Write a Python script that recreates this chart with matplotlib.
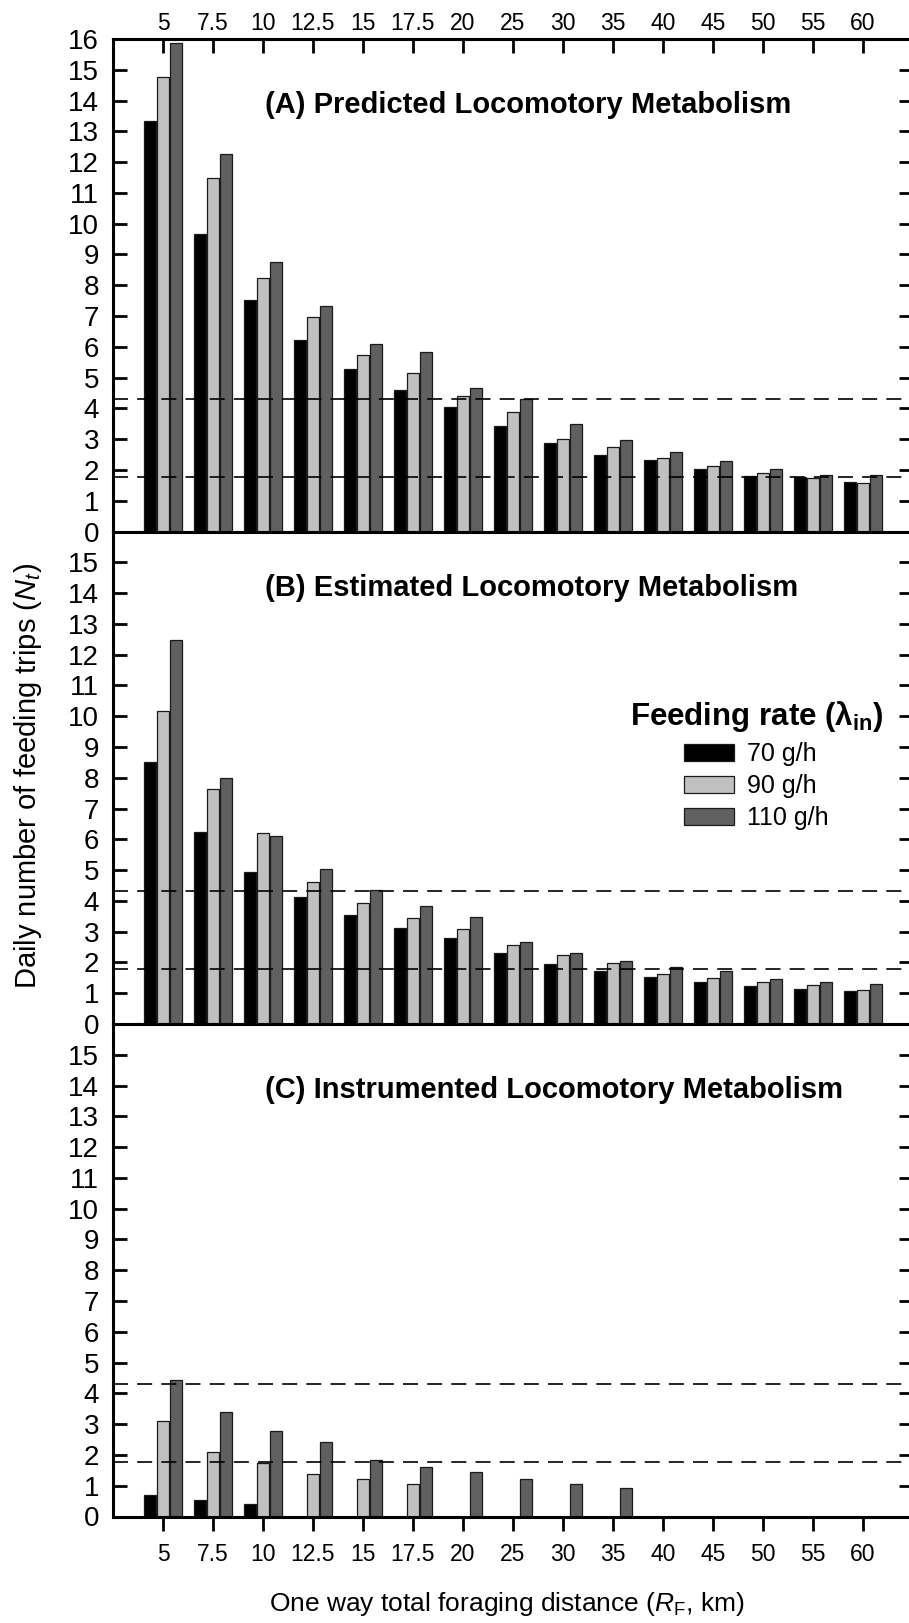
import numpy as np
import matplotlib
matplotlib.use("Agg")
import matplotlib.pyplot as plt

plt.rcParams['font.family'] = ['Liberation Sans', 'DejaVu Sans']
plt.rcParams['mathtext.fontset'] = 'custom'
plt.rcParams['mathtext.rm'] = 'Liberation Sans'
plt.rcParams['mathtext.it'] = 'Liberation Sans:italic'
plt.rcParams['mathtext.bf'] = 'Liberation Sans:bold'

# One-way foraging distance categories (km)
distances = ["5", "7.5", "10", "12.5", "15", "17.5", "20", "25", "30", "35",
             "40", "45", "50", "55", "60"]
rates = ["70 g/h", "90 g/h", "110 g/h"]
rate_colors = ["#000000", "#c0c0c0", "#606060"]

# (A) predicted locomotory metabolism: daily feeding trips
predicted_70 = [13.35, 9.65, 7.51, 6.23, 5.28, 4.61, 4.06, 3.42, 2.86, 2.47, 2.32, 2.03, 1.81, 1.78, 1.60]
predicted_90 = [14.78, 11.49, 8.24, 6.98, 5.72, 5.15, 4.40, 3.88, 3.02, 2.73, 2.38, 2.12, 1.90, 1.73, 1.59]
predicted_110 = [15.87, 12.28, 8.76, 7.32, 6.08, 5.83, 4.66, 4.32, 3.50, 2.96, 2.57, 2.28, 2.02, 1.85, 1.85]

# (B) estimated locomotory metabolism
estimated_70 = [8.52, 6.24, 4.95, 4.12, 3.55, 3.12, 2.78, 2.30, 1.95, 1.73, 1.52, 1.37, 1.25, 1.15, 1.06]
estimated_90 = [10.18, 7.63, 6.21, 4.62, 3.93, 3.45, 3.08, 2.58, 2.24, 1.99, 1.63, 1.48, 1.36, 1.26, 1.11]
estimated_110 = [12.48, 8.00, 6.11, 5.04, 4.34, 3.84, 3.49, 2.66, 2.31, 2.05, 1.86, 1.71, 1.46, 1.36, 1.29]

# (C) instrumented locomotory metabolism
instrumented_70 = [0.69, 0.54, 0.42, 0, 0, 0, 0, 0, 0, 0, 0, 0, 0, 0, 0]
instrumented_90 = [3.11, 2.10, 1.75, 1.39, 1.22, 1.06, 0, 0, 0, 0, 0, 0, 0, 0, 0]
instrumented_110 = [4.45, 3.38, 2.79, 2.41, 1.83, 1.60, 1.43, 1.21, 1.05, 0.94, 0, 0, 0, 0, 0]

# Reference levels of observed daily trips
trip_levels = [4.32, 1.78]

panel_titles = ["(A) Predicted Locomotory Metabolism",
                "(B) Estimated Locomotory Metabolism",
                "(C) Instrumented Locomotory Metabolism"]
title_heights = [13.6, 13.9, 13.6]
panel_series = [
    [predicted_70, predicted_90, predicted_110],
    [estimated_70, estimated_90, estimated_110],
    [instrumented_70, instrumented_90, instrumented_110],
]

W, H = 909, 1623
fig = plt.figure(figsize=(W / 100, H / 100), dpi=100)

def frame(top, bottom, left=113, width=800):
    return [left / W, 1 - bottom / H, width / W, (bottom - top) / H]

panel_boxes = [(39, 531.5), (531.5, 1024), (1024, 1516.5)]

x = np.arange(len(distances))
offsets = [-0.255, 0.0, 0.255]
bar_w = 0.245
spine_lw = 2.2
ytick_size = 20
xtick_size = 16.5

axes = []
for k, (top, bottom) in enumerate(panel_boxes):
    ax = fig.add_axes(frame(top, bottom))
    axes.append(ax)
    bars = []
    for series, off, col, lab in zip(panel_series[k], offsets, rate_colors, rates):
        b = ax.bar(x + off, series, width=bar_w, color=col, edgecolor="#1a1a1a",
                   linewidth=0.9, label=lab, zorder=2)
        bars.append(b)
    for lvl in trip_levels:
        ax.axhline(lvl, color="black", lw=1.2, dashes=(9, 5.5), zorder=3)
    ax.set_xlim(-1, len(distances))
    ax.set_ylim(0, 16)
    ax.set_xticks(x)
    ax.set_xticklabels(distances)
    if k == 0:
        ax.set_yticks(np.arange(0, 17))
    else:
        ax.set_yticks(np.arange(0, 16))
    for s in ax.spines.values():
        s.set_linewidth(spine_lw)
    ax.tick_params(axis="y", direction="in", length=10, width=2.0,
                   left=True, right=True, labelright=False, labelsize=ytick_size, pad=10)
    ax.tick_params(axis="x", direction="out", length=10, width=2.0,
                   top=False, bottom=True, labelbottom=(k == 2), labelsize=xtick_size, pad=9)
    ax.text(0.19, title_heights[k], panel_titles[k], transform=ax.get_yaxis_transform(),
            fontsize=21, fontweight="bold", ha="left", va="baseline", zorder=4)
    if k == 0:
        top_ax = ax.secondary_xaxis("top")
        top_ax.set_xticks(x)
        top_ax.set_xticklabels(distances)
        top_ax.tick_params(direction="in", length=10, width=2.0, labelsize=xtick_size, pad=3)
        top_ax.spines["top"].set_linewidth(spine_lw)
    if k == 1:
        ax.legend(handles=bars, labels=rates,
                  title=r"Feeding rate (λ$_{\mathbf{in}}$)",
                  title_fontproperties={"weight": "bold", "size": 22.5},
                  loc="upper left", bbox_to_anchor=(0.605, 0.726),
                  frameon=False, fontsize=18, handlelength=2.0, handleheight=0.68,
                  handletextpad=0.5, labelspacing=0.32, borderpad=1.3, borderaxespad=0)

fig.text(28 / W, 1 - 776 / H, r"Daily number of feeding trips ($N_t$)",
         rotation=90, ha="center", va="center", fontsize=21)
fig.text(507 / W, 1 - 1611 / H, r"One way total foraging distance ($R_\mathrm{F}$, km)",
         ha="center", va="baseline", fontsize=19)

fig.savefig("out.png", dpi=100)
